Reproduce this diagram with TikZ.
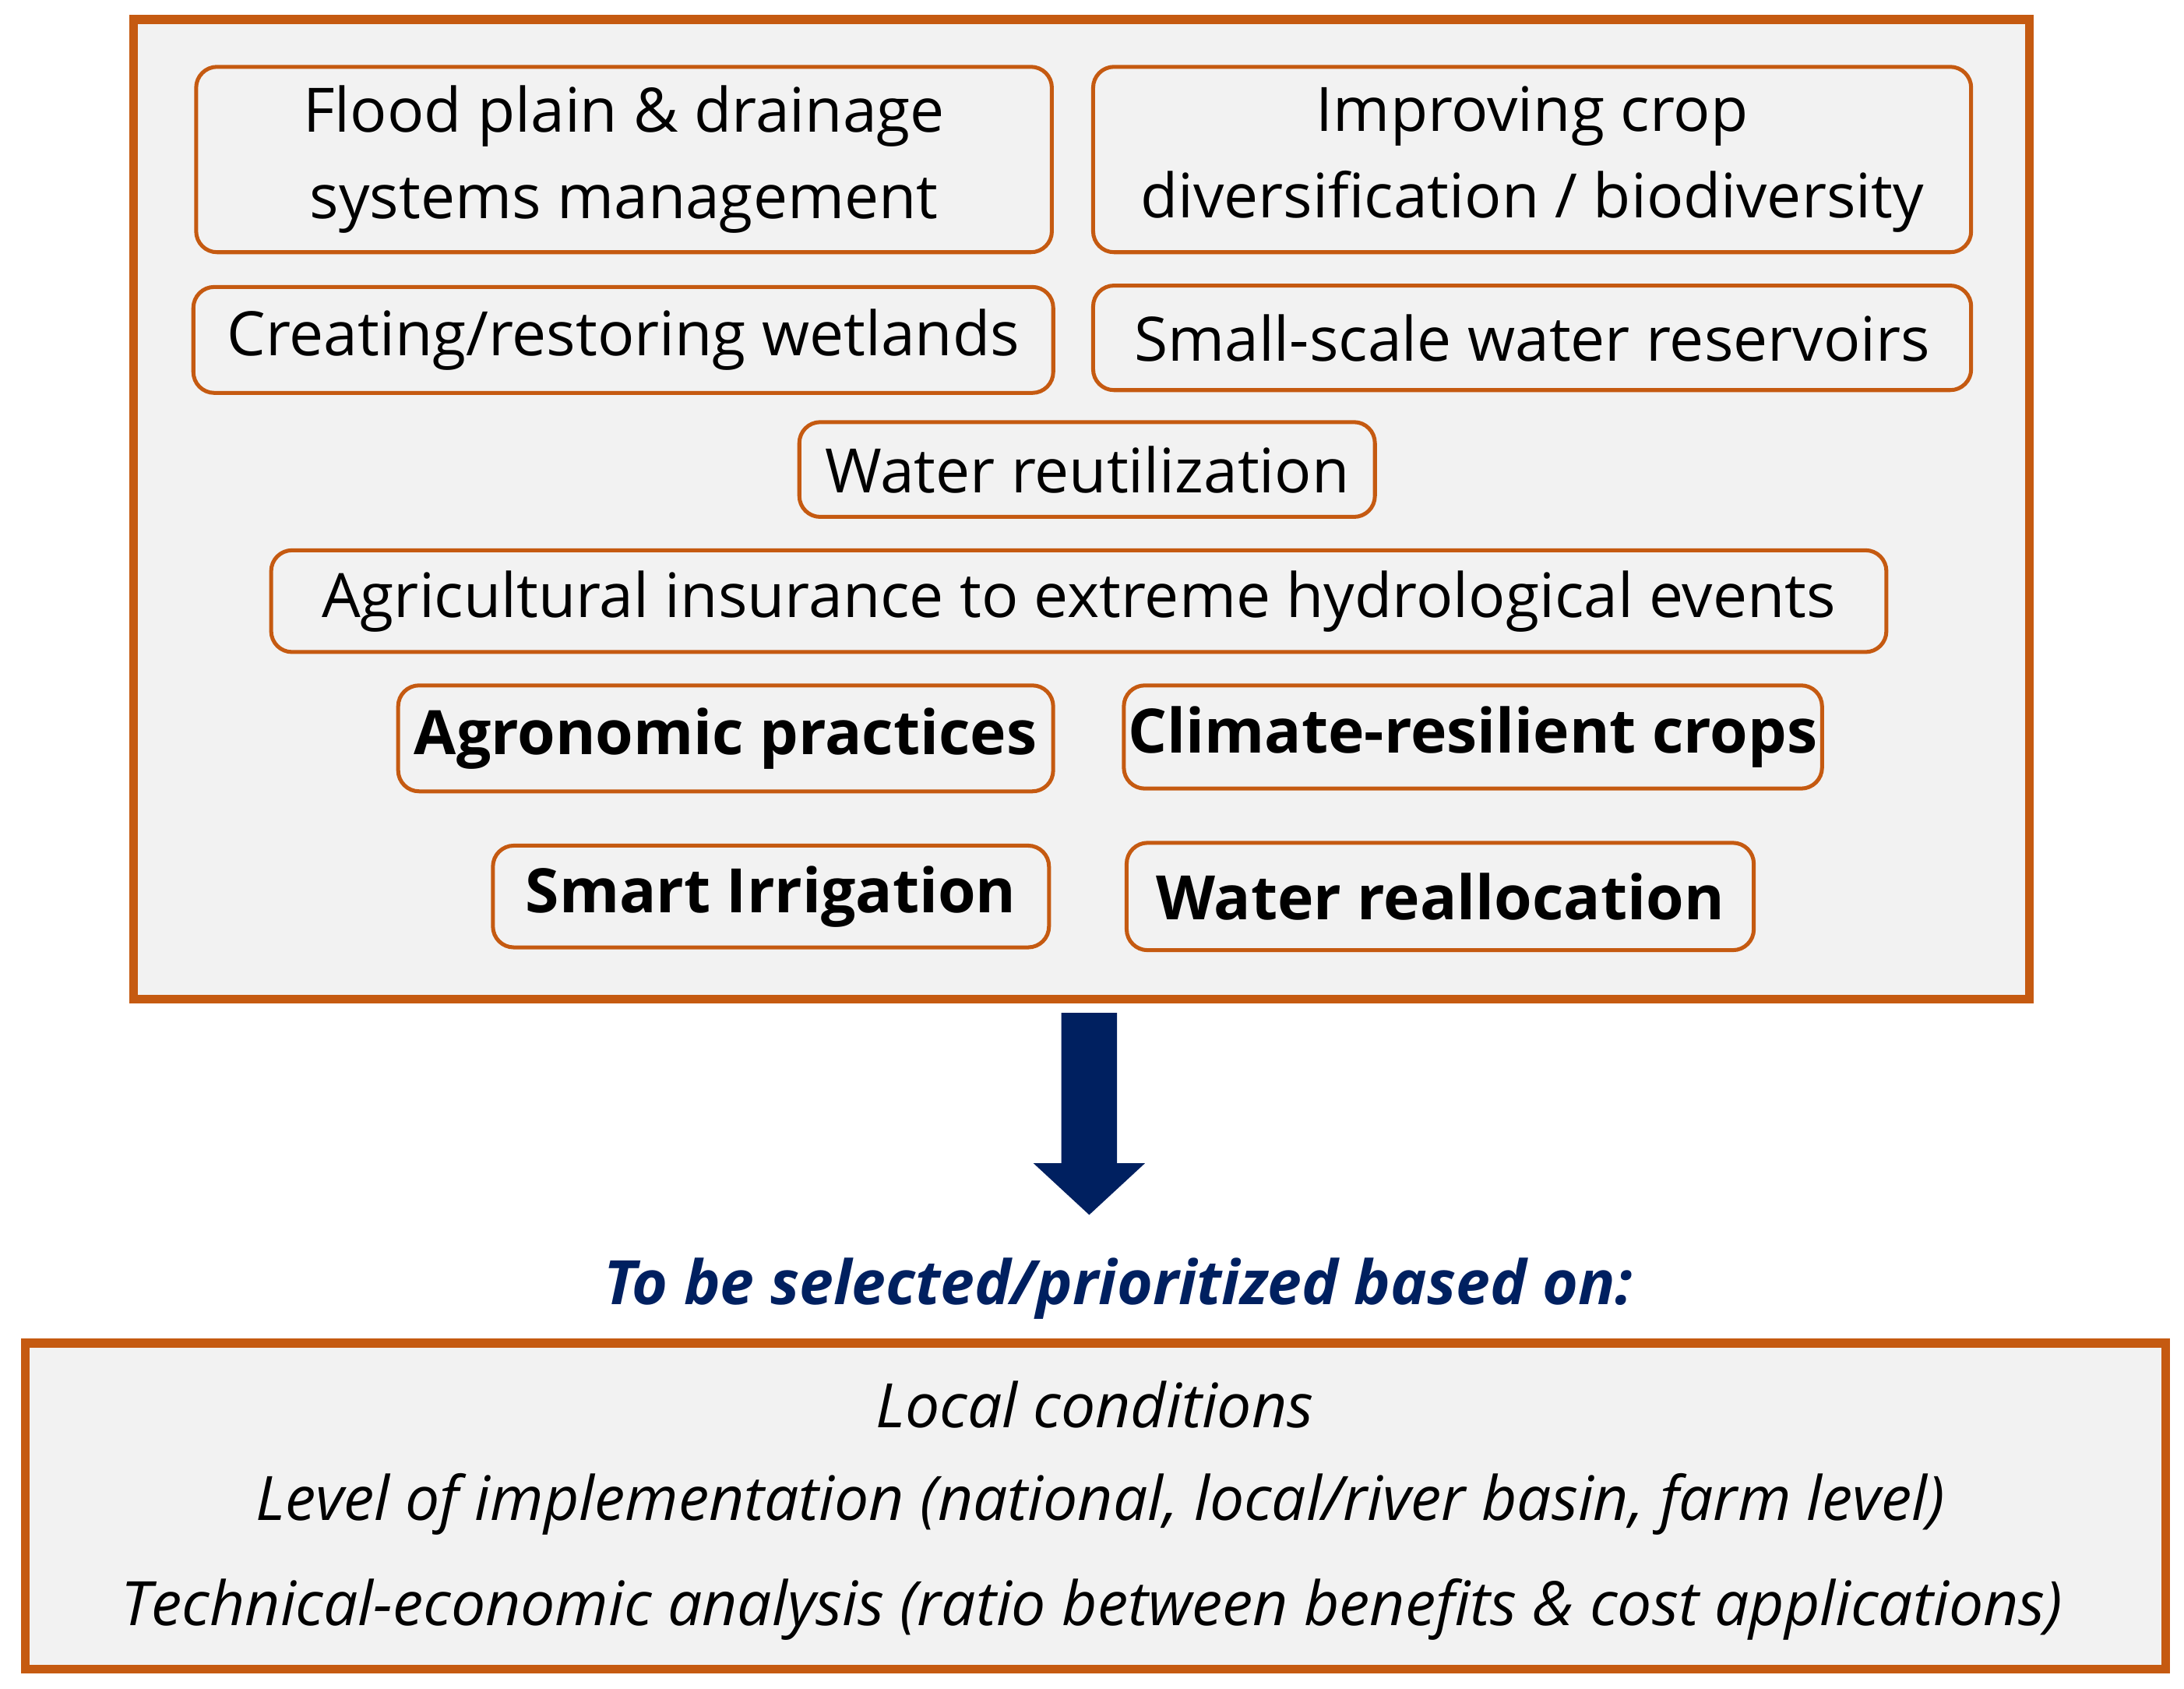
\documentclass[tikz,border=0pt]{standalone}
\usepackage{fontspec}
\setmainfont{Open Sans}
\definecolor{org}{HTML}{C55A11}
\definecolor{bg}{HTML}{F2F2F2}
\definecolor{navy}{HTML}{002060}
\begin{document}
\begin{tikzpicture}[x=0.01cm,y=-0.01cm,
  box/.style={draw=org,line width=0.8pt,rounded corners=0.15cm,fill=bg,align=center,inner sep=0pt,font=\fontsize{12.5}{17.6}\selectfont},
  bbox/.style={box,font=\fontsize{12.5}{17.6}\selectfont\bfseries}]
\useasboundingbox[fill=white] (0,0) rectangle (1568,1212);
\draw[org,line width=1.8pt,fill=bg] (96,14) rectangle (1457,717);
\node[box,minimum width=6.14cm,minimum height=1.33cm] (b1) at (448,114.5) {Flood plain \& drainage\\systems management};
\node[box,minimum width=6.30cm,minimum height=1.33cm] (b2) at (1100,114.5) {Improving crop\\diversification / biodiversity};
\node[box,minimum width=6.17cm,minimum height=0.76cm] (b3) at (447.5,244) {Creating/restoring wetlands};
\node[box,minimum width=6.30cm,minimum height=0.75cm] (b4) at (1100,242.5) {Small-scale water reservoirs};
\node[box,minimum width=4.13cm,minimum height=0.68cm] (b5) at (780.5,337) {Water reutilization};
\node[box,minimum width=11.59cm,minimum height=0.73cm] (b6) at (774.5,431.5) {Agricultural insurance to extreme hydrological events};
\node[bbox,minimum width=4.70cm,minimum height=0.76cm] (b7) at (521,530) {Agronomic practices};
\node[bbox,minimum width=5.01cm,minimum height=0.74cm] (b8) at (1057.5,529) {Climate-resilient crops};
\node[bbox,minimum width=3.99cm,minimum height=0.73cm] (b9) at (553.5,643.5) {Smart Irrigation};
\node[bbox,minimum width=4.50cm,minimum height=0.77cm] (b10) at (1034,643.5) {Water reallocation};
\fill[navy] (762,727) -- (802,727) -- (802,835) -- (822,835) -- (782,872) -- (742,835) -- (762,835) -- cycle;
\node[text=navy,font=\fontsize{12.5}{14}\selectfont\bfseries\itshape] (sel) at (803,925) {To be selected/prioritized based on:};
\draw[org,line width=1.8pt,fill=bg] (18,964) rectangle (1555,1198);
\node[font=\fontsize{12.5}{14}\selectfont\itshape] (l1) at (786,1008) {Local conditions};
\node[font=\fontsize{12.5}{14}\selectfont\itshape] (l2) at (790,1080) {Level of implementation (national, local/river basin, farm level)};
\node[font=\fontsize{12.5}{14}\selectfont\itshape] (l3) at (784,1155) {Technical-economic analysis (ratio between benefits \& cost applications)};
\end{tikzpicture}
\end{document}
